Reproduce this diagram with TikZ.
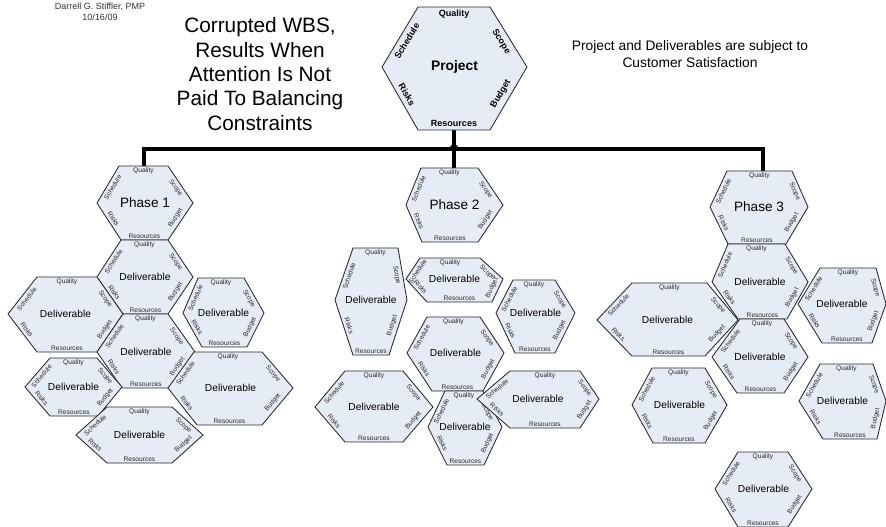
\documentclass[tikz,border=0pt]{standalone}
\usepackage{fontspec}
\setmainfont{Liberation Sans}
\usetikzlibrary{calc,arrows.meta}
\definecolor{hexfill}{RGB}{230,236,246}
\definecolor{hexedge}{RGB}{40,40,40}
\definecolor{labtxt}{RGB}{40,40,40}
\tikzset{
  hexline/.style={draw=hexedge, line width=0.85pt, fill=hexfill, line join=miter},
  labH/.style={font=\fontsize{6.6}{7}\selectfont, text=labtxt, inner sep=1.4pt, sloped},
  labS/.style={font=\fontsize{6.6}{7}\selectfont, text=labtxt, inner sep=2.8pt, sloped},
  projlabH/.style={font=\bfseries\fontsize{9}{10}\selectfont, text=black, inner sep=2.8pt, sloped},
  projlabS/.style={font=\bfseries\fontsize{9}{10}\selectfont, text=black, inner sep=4.5pt, sloped},
  ctrD/.style={font=\fontsize{10.2}{12}\selectfont, text=black, inner sep=0pt},
  ctrP/.style={font=\fontsize{13.6}{16}\selectfont, text=black, inner sep=0pt},
  ctrJ/.style={font=\bfseries\fontsize{13.8}{16}\selectfont, text=black, inner sep=0pt},
  conn/.style={line width=3.5pt, draw=black},
}
\newcommand\hexa[9]{%
  \coordinate (#1-L) at (#2);
  \coordinate (#1-TL) at (#3);
  \coordinate (#1-TR) at (#4);
  \coordinate (#1-R) at (#5);
  \coordinate (#1-BR) at (#6);
  \coordinate (#1-BL) at (#7);
  \path[hexline] (#1-L) -- (#1-TL) -- (#1-TR) -- (#1-R) -- (#1-BR) -- (#1-BL) -- cycle;
  \path (#1-TL) -- (#1-TR) node[labH, midway, below] (#1-q) {Quality};
  \path (#1-BL) -- (#1-BR) node[labH, midway, above] (#1-re) {Resources};
  \path (#1-L) -- (#1-TL) node[labS, midway, below] (#1-sc) {Schedule};
  \path (#1-TR) -- (#1-R) node[labS, midway, below] (#1-so) {Scope};
  \path (#1-L) -- (#1-BL) node[labS, midway, above] (#1-ri) {Risks};
  \path (#1-BR) -- (#1-R) node[labS, midway, above] (#1-bu) {Budget};
  \node[#9] (#1) at ($(#1-L)!0.5!(#1-R)$) {#8};
}
\begin{document}
\begin{tikzpicture}[x=1pt, y=-1pt]
\useasboundingbox (0,0) rectangle (886,527);

% texts
\node[align=center, font=\fontsize{9}{10.6}\selectfont, text=black!80] (author) at (100,12) {Darrell G. Stiffler, PMP\\10/16/09};
\node[align=center, font=\fontsize{20.8}{24.3}\selectfont] (title) at (260,74) {Corrupted WBS,\\Results When\\Attention Is Not\\Paid To Balancing\\Constraints};
\node[align=center, font=\fontsize{13.8}{16.8}\selectfont] (note) at (690,54) {Project and Deliverables are subject to\\Customer Satisfaction};

% connectors
\coordinate (projB) at (454,130);
\coordinate (junc) at (454,149);
\coordinate (tip) at (454,142);
\coordinate (p1top) at (144,166);
\coordinate (p2top) at (454,168);
\coordinate (p3top) at (763,171);
\draw[conn] (projB) -- (junc);
\draw[conn] (p1top) -- (p1top |- junc) -- (p3top |- junc) -- (p3top);
\draw[conn, -{Triangle[width=9pt,length=6pt]}] (p2top) -- (tip);

% project
\begin{scope}[labH/.style={projlabH}, labS/.style={projlabS}]
\hexa{project}{382,67}{418,7}{490,7}{527,67}{490,130}{418,130}{Project}{ctrJ}
\end{scope}

% phase 1 group
\hexa{phase1}{97,203}{119,166}{168,166}{193,203}{168,240}{121,240}{Phase 1}{ctrP}
\hexa{d1a}{97,277}{121,240}{168,240}{193,277}{168,314}{123,314}{Deliverable}{ctrD}
\hexa{d1b}{8,314}{37,277}{97,277}{123,314}{97,352}{37,352}{Deliverable}{ctrD}
\hexa{d1c}{183,313}{198,278}{244,278}{264,313}{247,347}{202,347}{Deliverable}{ctrD}
\hexa{d1d}{97,352}{123,314}{168,314}{195,352}{170,388}{122,388}{Deliverable}{ctrD}
\hexa{d1e}{25,387}{50,358}{97,358}{122,387}{98,416}{50,416}{Deliverable}{ctrD}
\hexa{d1f}{168,388}{194,352}{262,352}{293,388}{262,425}{197,425}{Deliverable}{ctrD}
\hexa{d1g}{76,435}{107,407}{172,407}{203,435}{172,463}{107,463}{Deliverable}{ctrD}

% phase 2 group
\hexa{phase2}{406,205}{421,168}{478,168}{503,205}{478,242}{422,242}{Phase 2}{ctrP}
\hexa{d2a}{335,300}{353,248}{398,248}{407,300}{389,355}{353,355}{Deliverable}{ctrD}
\hexa{d2b}{406,279}{420,258}{480,258}{503,279}{492,302}{427,302}{Deliverable}{ctrD}
\hexa{d2c}{496,313}{513,280}{555,280}{575,313}{555,353}{515,353}{Deliverable}{ctrD}
\hexa{d2d}{407,353}{427,317}{480,317}{504,353}{483,391}{432,391}{Deliverable}{ctrD}
\hexa{d2e}{315,407}{345,371}{403,371}{433,407}{403,442}{345,442}{Deliverable}{ctrD}
\hexa{d2f}{428,427}{445,391}{483,391}{502,427}{484,465}{447,465}{Deliverable}{ctrD}
\hexa{d2g}{477,399}{510,371}{580,371}{599,399}{580,428}{510,428}{Deliverable}{ctrD}

% phase 3 group
\hexa{phase3}{710,207}{727,171}{792,171}{808,207}{786,244}{728,244}{Phase 3}{ctrP}
\hexa{d3a}{712,282}{728,244}{785,244}{808,282}{787,319}{738,319}{Deliverable}{ctrD}
\hexa{d3b}{597,320}{632,283}{707,283}{738,320}{705,356}{632,356}{Deliverable}{ctrD}
\hexa{d3c}{798,304}{820,268}{876,268}{886,304}{872,343}{822,343}{Deliverable}{ctrD}
\hexa{d3d}{712,357}{740,319}{784,319}{808,357}{784,393}{737,393}{Deliverable}{ctrD}
\hexa{d3e}{632,405}{652,368}{705,368}{727,405}{705,443}{653,443}{Deliverable}{ctrD}
\hexa{d3f}{799,401}{820,364}{873,364}{886,401}{877,439}{823,439}{Deliverable}{ctrD}
\hexa{d3g}{715,489}{738,452}{788,452}{812,489}{788,527}{738,527}{Deliverable}{ctrD}
\end{tikzpicture}
\end{document}
